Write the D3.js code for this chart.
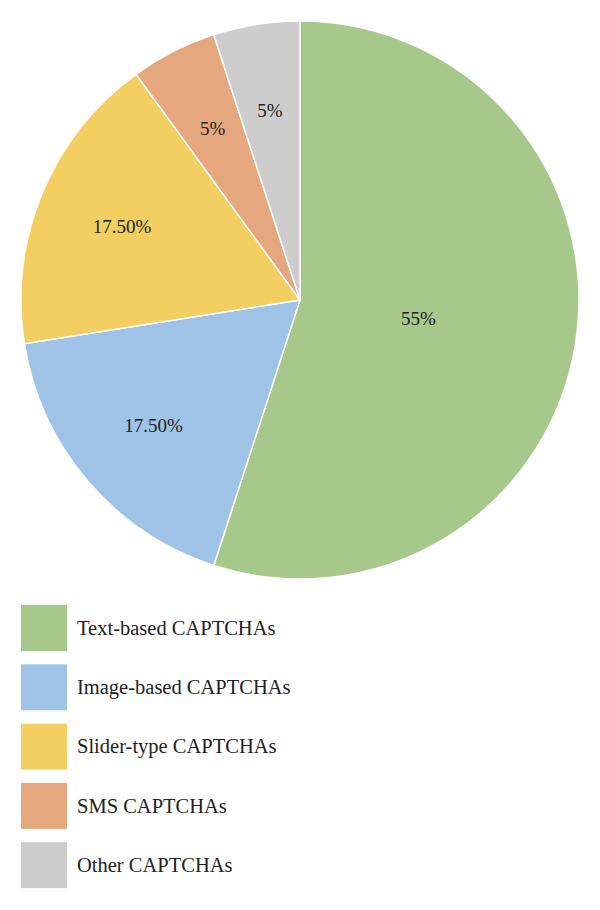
<!DOCTYPE html>
<html>
<head>
<meta charset="utf-8">
<script src="https://cdn.jsdelivr.net/npm/d3@7"></script>
<style>
	body { margin: 0; background: white; }
	text { font-family: "Liberation Serif", "DejaVu Serif", serif; fill: #222; }
</style>
</head>
<body>
<script>
// chart data
var categories = ["Text-based CAPTCHAs", "Image-based CAPTCHAs", "Slider-type CAPTCHAs", "SMS CAPTCHAs", "Other CAPTCHAs"];
var shares = [55, 17.5, 17.5, 5, 5];
var shareLabels = ["55%", "17.50%", "17.50%", "5%", "5%"];
var colours = ["#a6c88b", "#9ec3e6", "#f2cf60", "#e5a77d", "#cdcdcd"];

var width = 600, height = 910;
var cx = 300, cy = 300, radius = 279;

var svg = d3.select("body")
	.append("svg")
		.attr("width", width)
		.attr("height", height);

var slices = categories.map(function(c, i) {
	return { name: c, value: shares[i], label: shareLabels[i], colour: colours[i] };
});

var pie = d3.pie()
		.sort(null)
		.value(function(d) { return d.value; });

var arc = d3.arc()
		.innerRadius(0)
		.outerRadius(radius);

var arcs = pie(slices);

var g = svg.append("g")
		.attr("transform", "translate(" + cx + "," + cy + ")");

g.selectAll("path")
		.data(arcs)
	.enter()
	.append("path")
		.attr("d", arc)
		.attr("fill", function(d) { return d.data.colour; })
		.attr("stroke", "white")
		.attr("stroke-width", 1.5);

// big slice label sits nearer the centre, small ones further out
function labelPos(d) {
	var frac = d.data.value > 50 ? 0.43 : 0.69;
	var a = (d.startAngle + d.endAngle) / 2;
	return [Math.sin(a) * radius * frac, -Math.cos(a) * radius * frac];
}

g.selectAll("text.lbl")
		.data(arcs)
	.enter()
	.append("text")
		.attr("class", "lbl")
		.attr("x", function(d) { return labelPos(d)[0]; })
		.attr("y", function(d) { return labelPos(d)[1]; })
		.attr("dy", "0.35em")
		.attr("text-anchor", "middle")
		.attr("font-size", 19)
		.text(function(d) { return d.data.label; });

// legend
var legendY = d3.scaleBand()
		.domain(categories)
		.range([605, 605 + 59.3 * categories.length])
		.paddingInner(0);

var legend = svg.append("g")
	.selectAll("g")
		.data(slices)
	.enter()
	.append("g")
		.attr("transform", function(d) { return "translate(21," + legendY(d.name) + ")"; });

legend.append("rect")
		.attr("width", 46)
		.attr("height", 46)
		.attr("fill", function(d) { return d.colour; });

legend.append("text")
		.attr("x", 56)
		.attr("y", 23)
		.attr("dy", "0.33em")
		.attr("font-size", 20.5)
		.text(function(d) { return d.name; });
</script>
</body>
</html>
